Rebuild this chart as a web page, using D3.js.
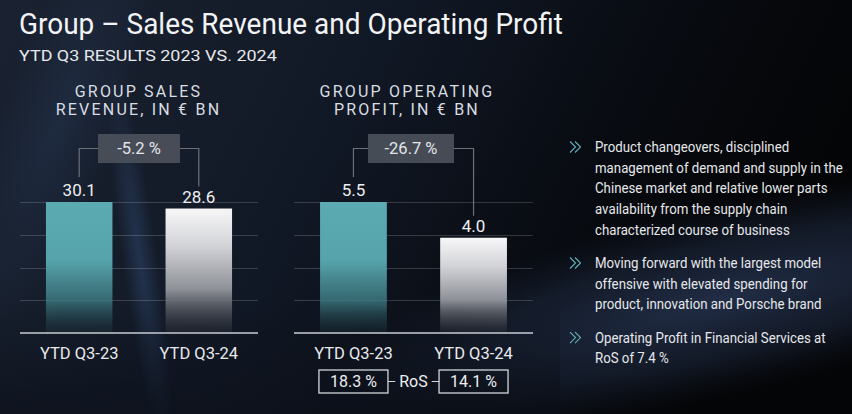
<!DOCTYPE html>
<html>
<head>
<meta charset="utf-8">
<script src="https://cdn.jsdelivr.net/npm/d3@7"></script>
<style>
  html, body { margin: 0; padding: 0; background: #0d121b; }
  svg { display: block; }
  text { font-family: Roboto, "Noto Sans", sans-serif; }
</style>
</head>
<body>
<svg id="chart" width="852" height="414"></svg>
<script>
// ---------------- DATA ----------------
const categories = ["YTD Q3-23", "YTD Q3-24"];
const salesRevenue = [30.1, 28.6];        // € bn
const operatingProfit = [5.5, 4.0];       // € bn
const salesChange = "-5.2 %";
const profitChange = "-26.7 %";
const returnOnSales = ["18.3 %", "14.1 %"];
const rosLabel = "RoS";
const titleText = "Group \u2013 Sales Revenue and Operating Profit";
const subtitleText = "YTD Q3 RESULTS 2023 VS. 2024";
const salesTitle = ["GROUP SALES", "REVENUE, IN \u20ac BN"];
const profitTitle = ["GROUP OPERATING", "PROFIT, IN \u20ac BN"];
const bullets = [
  ["Product changeovers, disciplined", "management of demand and supply in the",
   "Chinese market and relative lower parts", "availability from the supply chain",
   "characterized course of business"],
  ["Moving forward with the largest model", "offensive with elevated spending for",
   "product, innovation and Porsche brand"],
  ["Operating Profit in Financial Services at", "RoS of 7.4 %"]
];

// ---------------- SETUP ----------------
const svg = d3.select("#chart");
const W = 852, H = 414;
const defs = svg.append("defs");

// background gradients
const bg = defs.append("linearGradient").attr("id", "bg")
  .attr("x1", 0).attr("y1", 0).attr("x2", 1).attr("y2", 0.25);
bg.append("stop").attr("offset", "0%").attr("stop-color", "#1a2231");
bg.append("stop").attr("offset", "45%").attr("stop-color", "#111825");
bg.append("stop").attr("offset", "75%").attr("stop-color", "#080b11");
bg.append("stop").attr("offset", "100%").attr("stop-color", "#040507");

const glow = defs.append("radialGradient").attr("id", "glow");
glow.append("stop").attr("offset", "0%").attr("stop-color", "#23304a").attr("stop-opacity", 0.95);
glow.append("stop").attr("offset", "60%").attr("stop-color", "#1b2539").attr("stop-opacity", 0.6);
glow.append("stop").attr("offset", "100%").attr("stop-color", "#141c2b").attr("stop-opacity", 0);

const streak = defs.append("radialGradient").attr("id", "streak");
streak.append("stop").attr("offset", "0%").attr("stop-color", "#34507a").attr("stop-opacity", 0.45);
streak.append("stop").attr("offset", "100%").attr("stop-color", "#34507a").attr("stop-opacity", 0);

const bottomDark = defs.append("linearGradient").attr("id", "bottomDark")
  .attr("x1", 0).attr("y1", 0).attr("x2", 0).attr("y2", 1);
bottomDark.append("stop").attr("offset", "0%").attr("stop-color", "#0b0f18").attr("stop-opacity", 0);
bottomDark.append("stop").attr("offset", "100%").attr("stop-color", "#0b0f18").attr("stop-opacity", 0.6);

svg.append("rect").attr("width", W).attr("height", H).attr("fill", "url(#bg)");
svg.append("ellipse").attr("cx", 0).attr("cy", 0).attr("rx", 420).attr("ry", 95)
  .attr("transform", "translate(720,300) rotate(-13)").attr("fill", "url(#glow)");
svg.append("ellipse").attr("cx", 0).attr("cy", 0).attr("rx", 18).attr("ry", 200)
  .attr("transform", "translate(140,260) rotate(-8)").attr("fill", "url(#streak)");
svg.append("ellipse").attr("cx", 0).attr("cy", 0).attr("rx", 60).attr("ry", 230)
  .attr("transform", "translate(60,120) rotate(20)").attr("fill", "url(#streak)").attr("opacity", 0.5);
svg.append("rect").attr("y", 300).attr("width", 560).attr("height", 114).attr("fill", "url(#bottomDark)");

// bar gradients
const tealG = defs.append("linearGradient").attr("id", "tealBar")
  .attr("x1", 0).attr("y1", 0).attr("x2", 0).attr("y2", 1);
tealG.append("stop").attr("offset", "0%").attr("stop-color", "#5cabb2");
tealG.append("stop").attr("offset", "45%").attr("stop-color", "#56a3ab");
tealG.append("stop").attr("offset", "75%").attr("stop-color", "#3d7880").attr("stop-opacity", 0.85);
tealG.append("stop").attr("offset", "100%").attr("stop-color", "#1e3a44").attr("stop-opacity", 0.25);

const whiteG = defs.append("linearGradient").attr("id", "whiteBar")
  .attr("x1", 0).attr("y1", 0).attr("x2", 0).attr("y2", 1);
whiteG.append("stop").attr("offset", "0%").attr("stop-color", "#f7f7f8");
whiteG.append("stop").attr("offset", "30%").attr("stop-color", "#d2d3d7");
whiteG.append("stop").attr("offset", "65%").attr("stop-color", "#8d9097");
whiteG.append("stop").attr("offset", "100%").attr("stop-color", "#2a2e37").attr("stop-opacity", 0.4);

const lineG = defs.append("linearGradient").attr("id", "titleLine");
lineG.append("stop").attr("offset", "0%").attr("stop-color", "#ffffff").attr("stop-opacity", 0.05);
lineG.append("stop").attr("offset", "50%").attr("stop-color", "#ffffff").attr("stop-opacity", 0.16);
lineG.append("stop").attr("offset", "100%").attr("stop-color", "#ffffff").attr("stop-opacity", 0.03);

// helper: horizontally compress text to a target width
function fitWidth(sel, x, target) {
  const w = sel.node().getComputedTextLength();
  const s = target / w;
  sel.attr("transform", `translate(${x},0) scale(${s},1) translate(${-x},0)`);
}

// ---------------- HEADER ----------------
const title = svg.append("text").attr("x", 19).attr("y", 34)
  .attr("font-size", 29).attr("fill", "#f2f3f5").text(titleText);
fitWidth(title, 19, 544);
const sub = svg.append("text").attr("x", 19).attr("y", 61)
  .attr("font-size", 15.5).attr("fill", "#e6e8ec").text(subtitleText);
fitWidth(sub, 19, 258);

// ---------------- CHARTS ----------------
const baseY = 333, topY = 202;

function drawChart(cfg) {
  const g = svg.append("g");
  const x = d3.scaleBand().domain(categories).range(cfg.range)
    .paddingInner(0.444).paddingOuter(0.217);
  const y = d3.scaleLinear().domain([0, d3.max(cfg.values)]).range([baseY, topY]);
  const cx = d => x(d) + x.bandwidth() / 2;

  // titles
  cfg.title.forEach((t, i) => {
    g.append("text").attr("x", cfg.titleX).attr("y", 97 + i * 17.5)
      .attr("text-anchor", "middle").attr("font-size", 16).attr("letter-spacing", 2.2)
      .attr("fill", "#d9dde2").text(t);
  });
  g.append("line").attr("x1", cfg.range[0]).attr("x2", cfg.range[1] - 15)
    .attr("y1", 127.5).attr("y2", 127.5).attr("stroke", "url(#titleLine)").attr("stroke-width", 1.5);

  // gridlines
  const grid = d3.range(1, 5).map(i => d3.max(cfg.values) * i / 4);
  g.selectAll(".grid").data(grid).join("line")
    .attr("x1", cfg.range[0]).attr("x2", cfg.range[1])
    .attr("y1", d => Math.round(y(d)) + 0.5).attr("y2", d => Math.round(y(d)) + 0.5)
    .attr("stroke", "#ffffff").attr("stroke-opacity", 0.17).attr("stroke-width", 1);

  // bars
  g.selectAll(".bar").data(cfg.values).join("rect")
    .attr("x", (d, i) => x(categories[i])).attr("width", x.bandwidth())
    .attr("y", d => y(d)).attr("height", d => baseY - y(d))
    .attr("fill", (d, i) => i === 0 ? "url(#tealBar)" : "url(#whiteBar)");

  // baseline axis
  const axis = d3.axisBottom(x).tickSize(0).tickPadding(0);
  const ax = g.append("g").attr("transform", `translate(0,${baseY})`).call(axis);
  ax.select(".domain").attr("d", `M${cfg.range[0]},0H${cfg.range[1]}`)
    .attr("stroke", "#c9cdd3").attr("stroke-width", 1.6);
  ax.selectAll(".tick text").attr("y", 26).attr("dy", 0)
    .attr("font-family", "Roboto, sans-serif").attr("font-size", 16.5).attr("fill", "#e8e9ec");

  // value labels
  g.selectAll(".val").data(cfg.values).join("text")
    .attr("x", (d, i) => cx(categories[i])).attr("y", d => y(d) - 6)
    .attr("text-anchor", "middle").attr("font-size", 17).attr("fill", "#eeeff1")
    .text(d => d.toFixed(1));

  // change connector + box
  const boxW = cfg.boxW, boxH = 29, boxY = 134, lineY = 148.5;
  const bx = cfg.boxX;
  const y0 = y(cfg.values[0]) - 25, y1 = y(cfg.values[1]) - 22;
  g.append("path")
    .attr("d", `M${cx(categories[0])},${y0}V${lineY}H${bx - boxW / 2}M${bx + boxW / 2},${lineY}H${cx(categories[1])}V${y1}`)
    .attr("fill", "none").attr("stroke", "#6b717b").attr("stroke-width", 1.2);
  g.append("rect").attr("x", bx - boxW / 2).attr("y", boxY).attr("width", boxW).attr("height", boxH)
    .attr("fill", "#4c525c").attr("fill-opacity", 0.9);
  g.append("text").attr("x", bx).attr("y", 154).attr("text-anchor", "middle")
    .attr("font-size", 16.5).attr("fill", "#e4e6ea").text(cfg.change);

  return { x, cx };
}

drawChart({ range: [20, 258], values: salesRevenue, title: salesTitle, titleX: 138.5,
            change: salesChange, boxX: 139, boxW: 82 });
const c2 = drawChart({ range: [294, 533], values: operatingProfit, title: profitTitle, titleX: 407,
            change: profitChange, boxX: 411, boxW: 86 });

// RoS row
const rosG = svg.append("g");
const rW = 69, rH = 23, rY = 370;
const rc = categories.map(c => c2.cx(c));
const rosMid = (rc[0] + rc[1]) / 2;
returnOnSales.forEach((v, i) => {
  rosG.append("rect").attr("x", rc[i] - rW / 2).attr("y", rY).attr("width", rW).attr("height", rH)
    .attr("fill", "none").attr("stroke", "#d3d6db").attr("stroke-width", 1.3);
  rosG.append("text").attr("x", rc[i]).attr("y", 387).attr("text-anchor", "middle")
    .attr("font-size", 16).attr("fill", "#eceef1").text(v);
});
const rosT = rosG.append("text").attr("x", rosMid).attr("y", 387).attr("text-anchor", "middle")
  .attr("font-size", 16).attr("fill", "#eceef1").text(rosLabel);
const rtw = rosT.node().getComputedTextLength();
rosG.append("path")
  .attr("d", `M${rc[0] + rW / 2},381.5H${rosMid - rtw / 2 - 4}M${rosMid + rtw / 2 + 4},381.5H${rc[1] - rW / 2}`)
  .attr("stroke", "#d3d6db").attr("stroke-width", 1.2);

// ---------------- BULLETS ----------------
const bg2 = svg.append("g");
const lineH = 20.7, textX = 595, iconX = 570;
let by = 152;
let scaleX = null;
bullets.forEach(lines => {
  bg2.append("path")
    .attr("d", `M${iconX},${by - 10.5}L${iconX + 5.5},${by - 5}L${iconX},${by + 0.5}M${iconX + 5},${by - 10.5}L${iconX + 10.5},${by - 5}L${iconX + 5},${by + 0.5}`)
    .attr("fill", "none").attr("stroke", "#62b0b8").attr("stroke-width", 1.1);
  lines.forEach((l, i) => {
    const t = bg2.append("text").attr("class", "bl").attr("x", textX).attr("y", by + i * lineH)
      .attr("font-size", 15).attr("fill", "#e6e8eb").text(l);
  });
  by += lines.length * lineH + 12.5;
});
// compress bullet text so the longest line matches the reference width
const ref = bg2.selectAll(".bl").filter(function () { return this.textContent === bullets[0][1]; }).node();
const s = 248 / ref.getComputedTextLength();
bg2.selectAll(".bl").attr("transform", `translate(${textX},0) scale(${s},1) translate(${-textX},0)`);
</script>
</body>
</html>
